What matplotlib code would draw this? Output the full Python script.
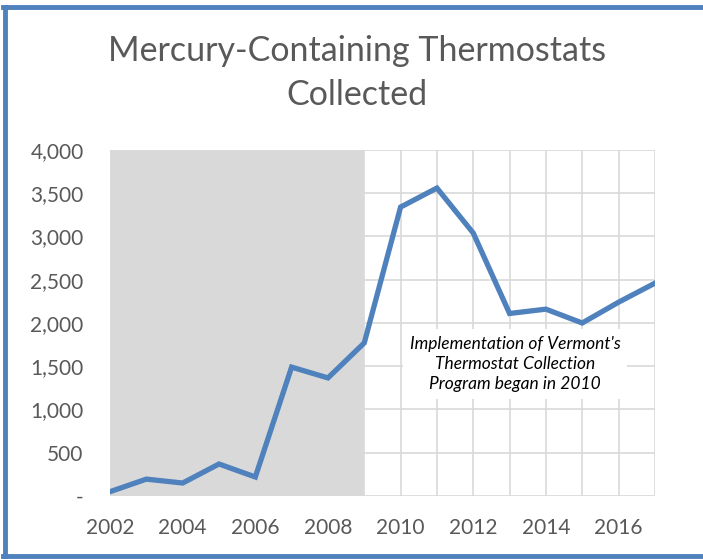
import matplotlib.pyplot as plt
import matplotlib.ticker as mticker
import numpy as np

years = np.arange(2002, 2018)
collected = [50, 195, 150, 370, 220, 1490, 1365, 1770, 3340, 3560, 3040, 2110, 2160, 2000, 2240, 2460]
y_ticks = [0, 500, 1000, 1500, 2000, 2500, 3000, 3500, 4000]
x_labels = [2002, 2004, 2006, 2008, 2010, 2012, 2014, 2016]

blue = '#4f81bd'
grid_gray = '#d9d9d9'
text_gray = '#595959'

plt.rcParams['font.family'] = ['Lato', 'DejaVu Sans']

fig = plt.figure(figsize=(7.03, 5.59), dpi=100)
ax = fig.add_axes([0.1565, 0.1127, 0.775, 0.619])

# pre-program years shaded
ax.axvspan(2002, 2009, color=grid_gray, zorder=1, lw=0)
ax.plot(years, collected, color=blue, lw=3.8, zorder=3, solid_joinstyle='miter')

ax.set_xlim(2002, 2017)
ax.set_ylim(0, 4000)
ax.set_xticks(x_labels)
ax.set_xticks(years, minor=True)
ax.set_yticks(y_ticks)
ax.yaxis.set_major_formatter(mticker.FuncFormatter(lambda v, p: '-' if v == 0 else f'{int(v):,}'))
ax.grid(which='both', color=grid_gray, lw=1.2, zorder=0)
ax.set_axisbelow(True)
for s in ax.spines.values():
    s.set_visible(False)
ax.tick_params(which='both', length=0, labelsize=15, labelcolor=text_gray)
ax.tick_params(axis='x', pad=16)
ax.tick_params(axis='y', pad=19)

ax.text(2013.15, 1526, "Implementation of Vermont's\nThermostat Collection\nProgram began in 2010",
        ha='center', va='center', fontsize=12.5, style='italic', color='black', linespacing=1.3, zorder=4,
        bbox=dict(facecolor='white', edgecolor='none', pad=5))

fig.text(0.508, 0.869, 'Mercury-Containing Thermostats\nCollected', ha='center', va='center',
         fontsize=24.5, color=text_gray, linespacing=1.45)

# outer chart border (right edge cropped in reference)
fig.add_artist(plt.Line2D([5 / 703, 5 / 703], [3 / 559, 552 / 559], color=blue, lw=3.5))
fig.add_artist(plt.Line2D([3 / 703, 1.0], [552 / 559, 552 / 559], color=blue, lw=3.5))
fig.add_artist(plt.Line2D([3 / 703, 1.0], [3 / 559, 3 / 559], color=blue, lw=3.5))

fig.savefig('out.png', dpi=100)
